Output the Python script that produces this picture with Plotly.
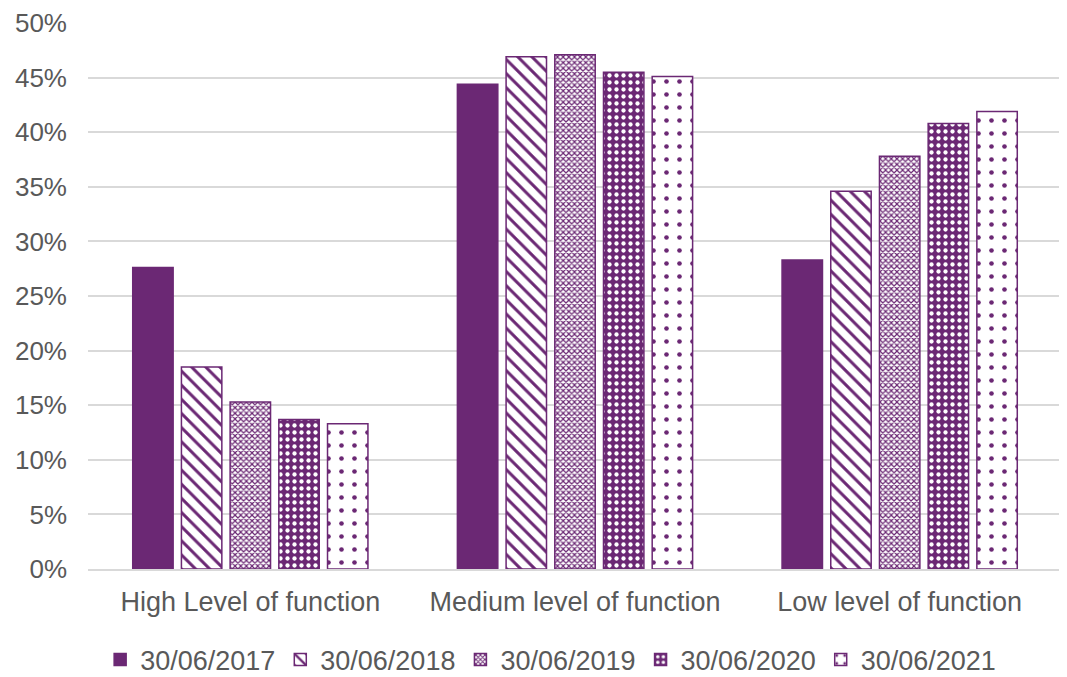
import plotly.graph_objects as go

categories = ["High Level of function", "Medium level of function", "Low level of function"]
series_names = ["30/06/2017", "30/06/2018", "30/06/2019", "30/06/2020", "30/06/2021"]
v2017 = [0.276, 0.444, 0.283]
v2018 = [0.185, 0.469, 0.346]
v2019 = [0.153, 0.471, 0.378]
v2020 = [0.137, 0.455, 0.408]
v2021 = [0.133, 0.451, 0.419]
tick_vals = [0, 0.05, 0.10, 0.15, 0.20, 0.25, 0.30, 0.35, 0.40, 0.45, 0.50]

PURPLE = "#6B2874"
values = [v2017, v2018, v2019, v2020, v2021]
patterns = [
    dict(shape=""),
    dict(shape="\\", fgcolor=PURPLE, bgcolor="white", fgopacity=1, size=10, solidity=0.3),
    dict(shape="x", fgcolor=PURPLE, bgcolor="white", fgopacity=1, size=4, solidity=0.5),
    dict(shape=".", fgcolor="white", bgcolor=PURPLE, fgopacity=1, size=7, solidity=0.3),
    dict(shape=".", fgcolor=PURPLE, bgcolor="white", fgopacity=1, size=13, solidity=0.1),
]

fig = go.Figure()
for name, vals, pat in zip(series_names, values, patterns):
    fig.add_trace(go.Bar(
        x=categories, y=vals, name=name,
        marker=dict(color=PURPLE if pat["shape"] == "" else "white",
                    line=dict(color=PURPLE, width=1.5),
                    pattern=pat),
    ))

fig.update_layout(
    width=1067, height=677,
    margin=dict(l=80, r=13, t=15, b=116),
    plot_bgcolor="white", paper_bgcolor="white",
    barmode="group", bargap=0.25, bargroupgap=0.17,
    font=dict(family="Liberation Sans, Arial, sans-serif", size=22, color="#595959"),
    showlegend=True,
    legend=dict(orientation="h", x=0.475, xanchor="center",
                yref="container", y=0.037, yanchor="middle",
                font=dict(size=27, color="#595959"), itemwidth=30, tracegroupgap=0),
    yaxis=dict(range=[0, 0.5], tickvals=tick_vals, tickformat=".0%",
               gridcolor="#D9D9D9", gridwidth=1.5, zeroline=False, automargin=False,
               showline=False, ticks="", ticklen=0, ticklabelstandoff=20,
               tickfont=dict(size=26)),
    xaxis=dict(showline=True, linecolor="#D9D9D9", linewidth=1.5, ticks="",
               automargin=False, tickfont=dict(size=27), ticklabelstandoff=8),
)
fig.write_html("out.html")
